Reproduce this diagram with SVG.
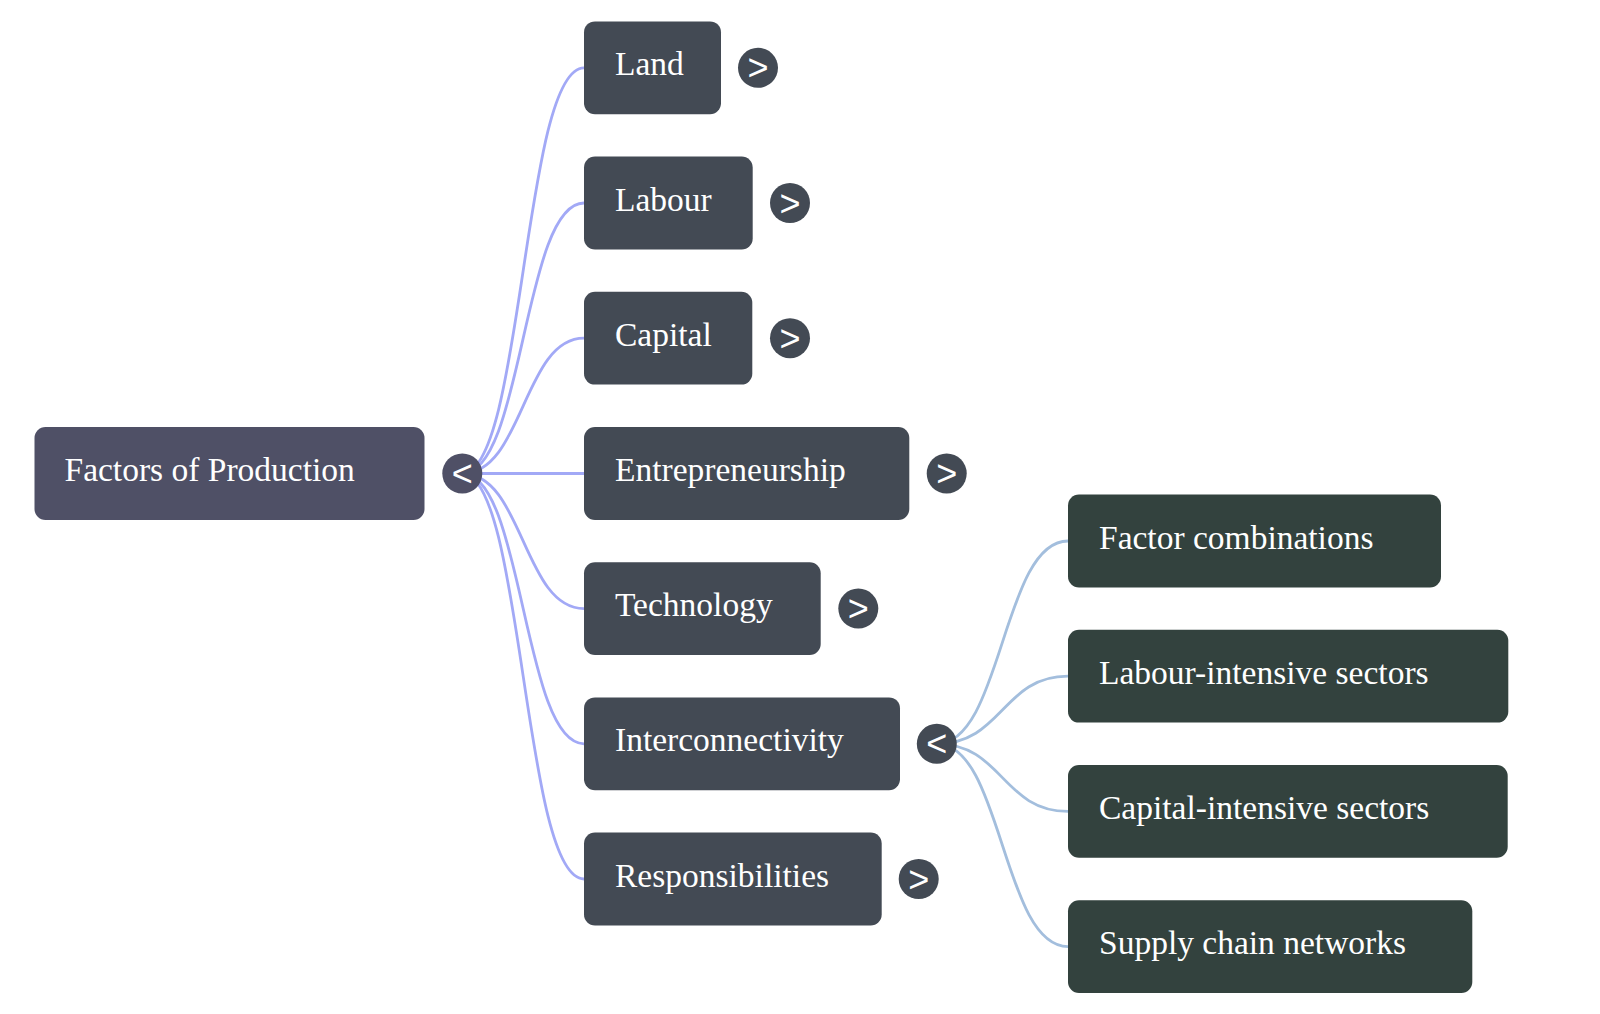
<svg xmlns="http://www.w3.org/2000/svg" width="1600" height="1014" viewBox="0 0 1600 1014">
<style>
  .bg { fill: #ffffff; }
  .root { fill: #4f5066; }
  .l1 { fill: #434a54; }
  .l2 { fill: #33423e; }
  .lbl { font-family: "Liberation Serif", "Times New Roman", serif; font-size: 33.5px; fill: #ffffff; }
  .tog { font-family: "Liberation Sans", Arial, sans-serif; font-size: 36px; fill: #ffffff; text-anchor: middle; }
  .c1 { fill: none; stroke: #a2a9f6; stroke-width: 2.8; }
  .c2 { fill: none; stroke: #a3bedd; stroke-width: 2.8; }
</style>
<rect class="bg" x="0" y="0" width="1600" height="1014"/>
<g id="connectors">
  <path class="c1" d="M462.3 473.5 C523.2 473.5 523.2 67.8 584 67.8"/>
  <path class="c1" d="M462.3 473.5 C523.2 473.5 523.2 203 584 203"/>
  <path class="c1" d="M462.3 473.5 C523.2 473.5 523.2 338.2 584 338.2"/>
  <path class="c1" d="M462.3 473.5 L584 473.5"/>
  <path class="c1" d="M462.3 473.5 C523.2 473.5 523.2 608.6 584 608.6"/>
  <path class="c1" d="M462.3 473.5 C523.2 473.5 523.2 743.8 584 743.8"/>
  <path class="c1" d="M462.3 473.5 C523.2 473.5 523.2 879 584 879"/>
  <path class="c2" d="M936.8 743.8 C1002.4 743.8 1002.4 541 1068 541"/>
  <path class="c2" d="M936.8 743.8 C1002.4 743.8 1002.4 676.2 1068 676.2"/>
  <path class="c2" d="M936.8 743.8 C1002.4 743.8 1002.4 811.4 1068 811.4"/>
  <path class="c2" d="M936.8 743.8 C1002.4 743.8 1002.4 946.6 1068 946.6"/>
</g>
<g id="root">
  <rect class="root" x="34.5" y="427.1" width="390" height="92.8" rx="11"/>
  <text class="lbl" x="64.5" y="481">Factors of Production</text>
  <circle class="root" cx="462.3" cy="473.5" r="20"/>
  <text class="tog" x="462.3" y="486">&lt;</text>
</g>
<g id="land">
  <rect class="l1" x="584" y="21.4" width="137" height="92.8" rx="11"/>
  <text class="lbl" x="615" y="75.3">Land</text>
  <circle class="l1" cx="758" cy="67.8" r="20"/>
  <text class="tog" x="758" y="80.3">&gt;</text>
</g>
<g id="labour">
  <rect class="l1" x="584" y="156.6" width="168.7" height="92.8" rx="11"/>
  <text class="lbl" x="615" y="210.5">Labour</text>
  <circle class="l1" cx="790" cy="203" r="20"/>
  <text class="tog" x="790" y="215.5">&gt;</text>
</g>
<g id="capital">
  <rect class="l1" x="584" y="291.8" width="168.3" height="92.8" rx="11"/>
  <text class="lbl" x="615" y="345.7">Capital</text>
  <circle class="l1" cx="790" cy="338.2" r="20"/>
  <text class="tog" x="790" y="350.7">&gt;</text>
</g>
<g id="entrepreneurship">
  <rect class="l1" x="584" y="427.1" width="325.3" height="92.8" rx="11"/>
  <text class="lbl" x="615" y="481">Entrepreneurship</text>
  <circle class="l1" cx="946.7" cy="473.5" r="20"/>
  <text class="tog" x="946.7" y="486">&gt;</text>
</g>
<g id="technology">
  <rect class="l1" x="584" y="562.2" width="236.7" height="92.8" rx="11"/>
  <text class="lbl" x="615" y="616.1">Technology</text>
  <circle class="l1" cx="858.3" cy="608.6" r="20"/>
  <text class="tog" x="858.3" y="621.1">&gt;</text>
</g>
<g id="interconnectivity">
  <rect class="l1" x="584" y="697.4" width="316" height="92.8" rx="11"/>
  <text class="lbl" x="615" y="751.3">Interconnectivity</text>
  <circle class="l1" cx="936.8" cy="743.8" r="20"/>
  <text class="tog" x="936.8" y="756.3">&lt;</text>
</g>
<g id="responsibilities">
  <rect class="l1" x="584" y="832.6" width="297.7" height="92.8" rx="11"/>
  <text class="lbl" x="615" y="886.5">Responsibilities</text>
  <circle class="l1" cx="918.7" cy="879" r="20"/>
  <text class="tog" x="918.7" y="891.5">&gt;</text>
</g>
<g id="factor-combinations">
  <rect class="l2" x="1068" y="494.6" width="373" height="92.8" rx="11"/>
  <text class="lbl" x="1099" y="548.5">Factor combinations</text>
</g>
<g id="labour-intensive">
  <rect class="l2" x="1068" y="629.8" width="440.3" height="92.8" rx="11"/>
  <text class="lbl" x="1099" y="683.7">Labour-intensive sectors</text>
</g>
<g id="capital-intensive">
  <rect class="l2" x="1068" y="765" width="439.7" height="92.8" rx="11"/>
  <text class="lbl" x="1099" y="818.9">Capital-intensive sectors</text>
</g>
<g id="supply-chain">
  <rect class="l2" x="1068" y="900.2" width="404.3" height="92.8" rx="11"/>
  <text class="lbl" x="1099" y="954.1">Supply chain networks</text>
</g>
</svg>
